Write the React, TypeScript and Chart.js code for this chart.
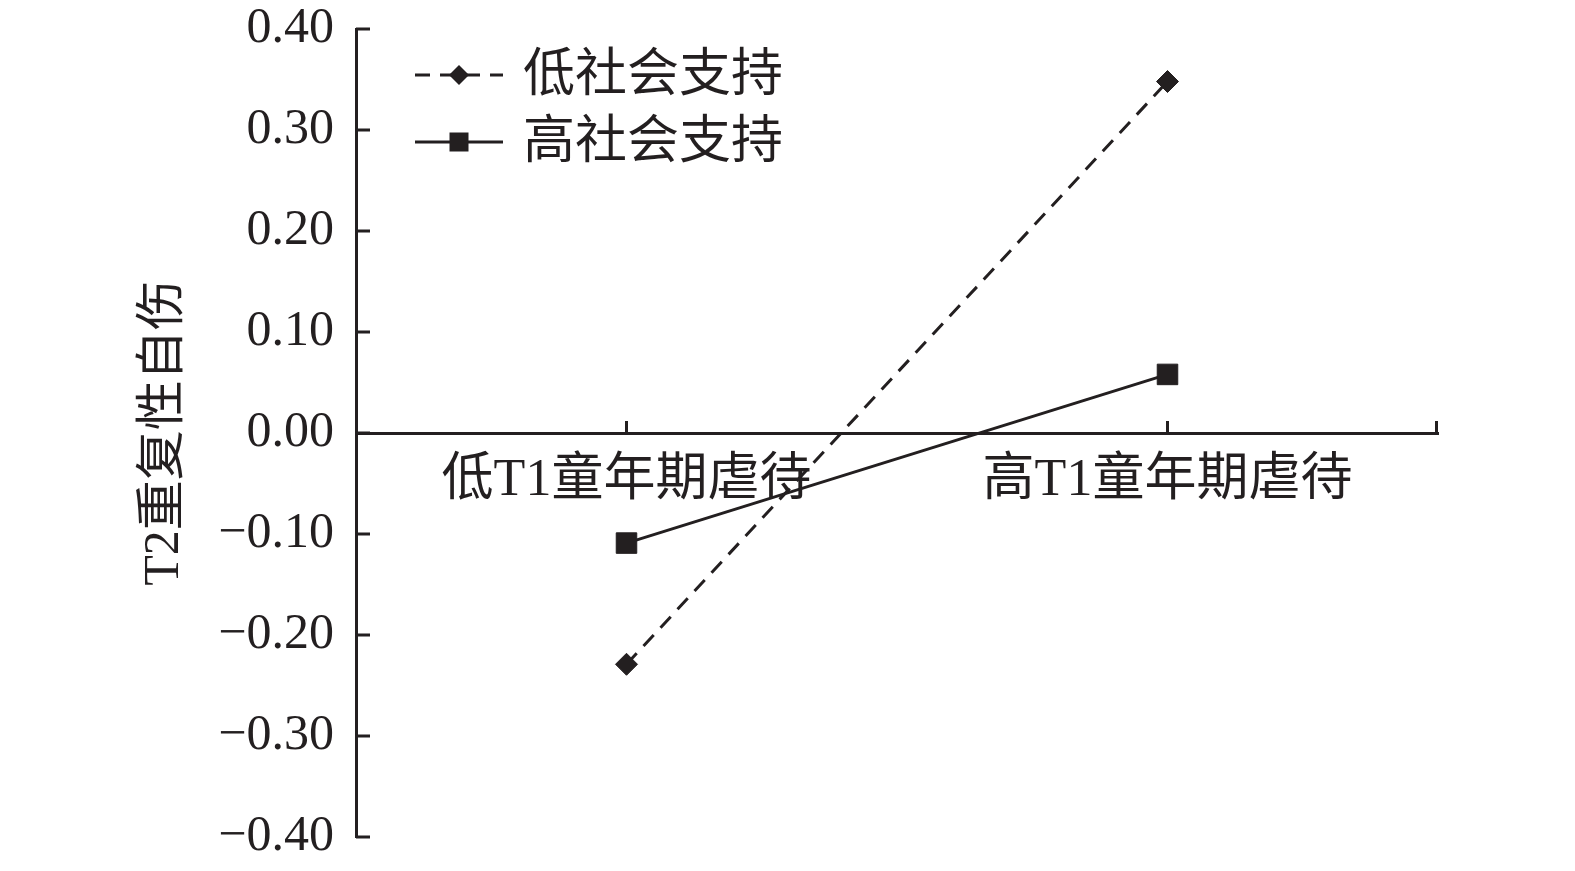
import React, { useEffect, useRef } from "react";
import { Chart, registerables } from "chart.js";

Chart.register(...registerables);

const categories = ["低T1童年期虐待", "高T1童年期虐待"];
const seriesNames = ["低社会支持", "高社会支持"];
const lowSupport = [-0.229, 0.348];
const highSupport = [-0.109, 0.058];
const yTitle = "T2重复性自伤";

const INK = "#231f20";
const NUM_FONT = "'Liberation Serif', 'Noto Sans CJK SC', serif";

const tickMarks = {
  id: "tickMarks",
  afterDraw(chart: any) {
    const { ctx, chartArea, scales } = chart;
    const x = scales.x;
    const y = scales.y;
    ctx.save();
    ctx.strokeStyle = INK;
    ctx.lineWidth = 3;
    ctx.beginPath();
    y.ticks.forEach((_t: any, i: number) => {
      const py = y.getPixelForTick(i);
      ctx.moveTo(chartArea.left, py);
      ctx.lineTo(chartArea.left + 14, py);
    });
    const zy = y.getPixelForValue(0);
    const xs = categories.map((_c, i) => x.getPixelForValue(i));
    xs.push(chartArea.right - 1.5);
    xs.forEach((px: number) => {
      ctx.moveTo(px, zy + 1.5);
      ctx.lineTo(px, zy - 12);
    });
    ctx.stroke();
    ctx.restore();
  },
};

const customLegend = {
  id: "customLegend",
  afterDraw(chart: any) {
    const { ctx } = chart;
    const rows = [75, 142];
    const x0 = 415;
    const x1 = 503;
    const xm = (x0 + x1) / 2;
    ctx.save();
    chart.data.datasets.forEach((ds: any, i: number) => {
      const yy = rows[i];
      ctx.strokeStyle = ds.borderColor;
      ctx.lineWidth = ds.borderWidth;
      ctx.setLineDash(ds.borderDash || []);
      ctx.beginPath();
      ctx.moveTo(x0, yy);
      ctx.lineTo(x1, yy);
      ctx.stroke();
      ctx.setLineDash([]);
      ctx.fillStyle = ds.pointBackgroundColor;
      ctx.beginPath();
      if (ds.pointStyle === "rectRot") {
        const r = 10;
        ctx.moveTo(xm, yy - r);
        ctx.lineTo(xm + r, yy);
        ctx.lineTo(xm, yy + r);
        ctx.lineTo(xm - r, yy);
        ctx.closePath();
      } else {
        const s = 9.5;
        ctx.rect(xm - s, yy - s, 2 * s, 2 * s);
      }
      ctx.fill();
      ctx.fillStyle = INK;
      ctx.font = `52px ${NUM_FONT}`;
      ctx.textAlign = "left";
      ctx.textBaseline = "middle";
      ctx.fillText(ds.label, 523, yy + 2);
    });
    ctx.restore();
  },
};

function fmt(v: number): string {
  if (Math.abs(v) < 1e-9) return "0.00";
  const s = Math.abs(v).toFixed(2);
  return v < 0 ? "\u2212" + s : s;
}

export default function App() {
  const ref = useRef<HTMLCanvasElement | null>(null);
  useEffect(() => {
    if (!ref.current) return;
    const chart = new Chart(ref.current, {
      type: "line",
      data: {
        labels: categories,
        datasets: [
          {
            label: seriesNames[0],
            data: lowSupport,
            borderColor: INK,
            backgroundColor: INK,
            borderWidth: 3,
            borderDash: [15, 10],
            pointStyle: "rectRot",
            pointRadius: 11,
            pointBackgroundColor: INK,
            pointBorderColor: INK,
            pointBorderWidth: 1,
            fill: false,
            tension: 0,
          },
          {
            label: seriesNames[1],
            data: highSupport,
            borderColor: INK,
            backgroundColor: INK,
            borderWidth: 3,
            pointStyle: "rect",
            pointRadius: 14.5,
            pointBackgroundColor: INK,
            pointBorderColor: INK,
            pointBorderWidth: 1,
            fill: false,
            tension: 0,
          },
        ],
      } as any,
      options: {
        animation: false,
        responsive: true,
        maintainAspectRatio: false,
        layout: { padding: { left: 0, right: 137, top: 29, bottom: 34 } },
        plugins: {
          legend: { display: false },
          tooltip: { enabled: false },
        },
        scales: {
          x: {
            type: "category",
            offset: true,
            position: { y: 0 } as any,
            grid: { display: false, drawTicks: false },
            border: { display: true, color: INK, width: 3 },
            afterFit: (axis: any) => {
              axis.paddingLeft = 0;
              axis.paddingRight = 0;
            },
            ticks: {
              color: INK,
              padding: 17,
              maxRotation: 0,
              autoSkip: false,
              font: { family: NUM_FONT, size: 52 },
            },
          },
          y: {
            type: "linear",
            min: -0.4,
            max: 0.4,
            afterFit: (axis: any) => {
              axis.width = 356;
              axis.paddingTop = 0;
              axis.paddingBottom = 0;
            },
            grid: { display: false, drawTicks: false },
            border: { display: true, color: INK, width: 3 },
            ticks: {
              stepSize: 0.1,
              color: INK,
              padding: 22,
              font: { family: NUM_FONT, size: 50 },
              callback: (v: any) => fmt(Number(v)),
            },
            title: {
              display: true,
              text: yTitle,
              color: INK,
              font: { family: NUM_FONT, size: 50 },
              padding: { top: 135, bottom: 0 },
            },
          },
        },
      } as any,
      plugins: [tickMarks, customLegend],
    });
    return () => chart.destroy();
  }, []);
  return (
    <div style={{ position: "fixed", left: 0, top: 0, width: 1575, height: 871, background: "#fff" }}>
      <canvas ref={ref} />
    </div>
  );
}
